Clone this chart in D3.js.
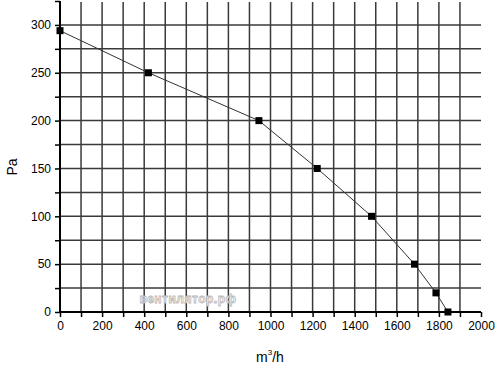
<!DOCTYPE html>
<html><head><meta charset="utf-8">
<script src="https://cdn.jsdelivr.net/npm/d3@7"></script>
<style>body{margin:0;background:#fff}svg{display:block}text{font-family:"Liberation Sans",Arial,sans-serif}</style>
</head><body><svg id="c" width="500" height="366"></svg>
<script>
const flow = [0, 420, 945, 1222, 1480, 1684, 1786, 1843];
const pressure = [294, 250, 200, 150, 100, 50, 20, 0];
const xTicks = [0,200,400,600,800,1000,1200,1400,1600,1800,2000];
const yTicks = [0,50,100,150,200,250,300];
const xGrid = d3.range(100, 2000, 100);
const yGrid = d3.range(25, 325, 25);

const svg = d3.select("#c");
const x = d3.scaleLinear().domain([0,2000]).range([60,481]);
const y = d3.scaleLinear().domain([0,325]).range([312,1]);

const g = svg.append("g");
g.selectAll(".vg").data(xGrid).join("line")
  .attr("x1",d=>x(d)).attr("x2",d=>x(d)).attr("y1",y(0)).attr("y2",y(325)+1)
  .attr("stroke","#3a3a3a").attr("stroke-width",1.5);
g.selectAll(".hg").data(yGrid).join("line")
  .attr("x1",x(0)).attr("x2",x(2000)).attr("y1",d=>y(d)).attr("y2",d=>y(d))
  .attr("stroke","#3a3a3a").attr("stroke-width",1.5);

// watermark
svg.append("text").attr("x",188).attr("y",303).attr("text-anchor","middle")
  .attr("font-size",12).attr("font-weight","bold").attr("fill","#fff")
  .attr("stroke","#b8b8b8").attr("stroke-width",0.8).attr("letter-spacing",0.5)
  .text("вентилятор.рф");

// axes
const xa = svg.append("g").attr("transform",`translate(0,${y(0)})`)
  .call(d3.axisBottom(x).tickValues(d3.range(0,2001,100)).tickSize(5).tickFormat(d=>xTicks.includes(d)?d:""));
const ya = svg.append("g").attr("transform",`translate(${x(0)},0)`)
  .call(d3.axisLeft(y).tickValues(d3.range(0,326,25)).tickSize(5).tickFormat(d=>yTicks.includes(d)?d:""));
[xa,ya].forEach(a=>{
  a.select(".domain").attr("stroke","#000").attr("stroke-width",2);
  a.selectAll(".tick line").attr("stroke","#000").attr("stroke-width",1.5);
  a.selectAll(".tick text").attr("font-size",12).attr("fill","#000")
   .style("font-family","'Liberation Sans',Arial,sans-serif");
});
xa.select(".domain").attr("d",`M${x(0)},0H${x(2000)}`);
ya.select(".domain").attr("d",`M0,${y(0)}V${y(325)}`);
xa.selectAll(".tick text").attr("dy","0.95em").attr("y",7);
ya.selectAll(".tick text").attr("x",-9);

// line + markers
const pts = flow.map((f,i)=>[f,pressure[i]]);
svg.append("path").datum(pts)
  .attr("d",d3.line().x(d=>x(d[0])).y(d=>y(d[1])))
  .attr("fill","none").attr("stroke","#333").attr("stroke-width",1);
svg.selectAll(".m").data(pts).join("rect")
  .attr("x",d=>x(d[0])-3.5).attr("y",d=>y(d[1])-3.5).attr("width",7).attr("height",7)
  .attr("fill","#000");

// labels
svg.append("text").attr("transform","translate(17,167) rotate(-90)").attr("text-anchor","middle")
  .attr("font-size",14).text("Pa");
const xl = svg.append("text").attr("x",270).attr("y",362).attr("text-anchor","middle").attr("font-size",14);
xl.append("tspan").text("m");
xl.append("tspan").attr("font-size",8).attr("dy",-7).text("3");
xl.append("tspan").attr("dy",7).text("/h");
</script></body></html>
